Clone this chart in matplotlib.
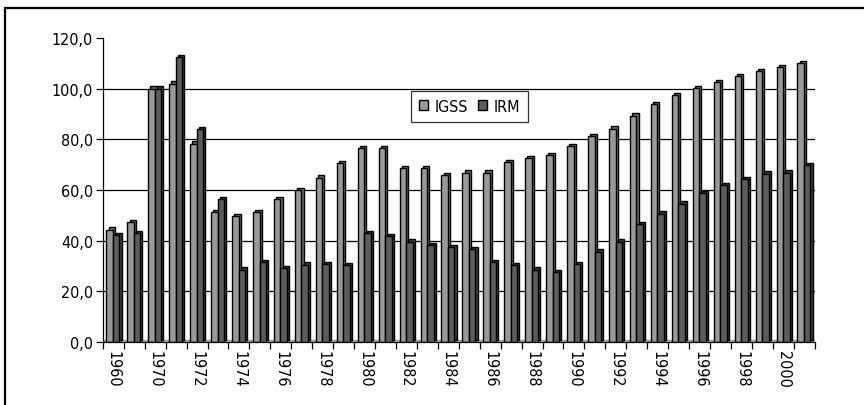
import numpy as np
import matplotlib.pyplot as plt
from matplotlib.patches import Rectangle
from matplotlib.ticker import FixedLocator, FuncFormatter

plt.rcParams['font.family'] = ['DejaVu Sans']
plt.rcParams['font.stretch'] = 'condensed'

# years on the category axis (only every second one gets a label)
years = ['1960', '1965'] + [str(y) for y in range(1970, 2002)]

igss = [44.4, 47.3, 100.0, 102.0, 78.3, 51.3, 49.7, 51.3, 56.5, 60.0,
        64.9, 70.5, 76.6, 76.6, 68.6, 68.6, 65.9, 66.9, 66.9, 71.0,
        72.7, 73.8, 77.3, 81.2, 84.2, 89.4, 93.9, 97.4, 100.3, 102.6,
        104.8, 106.8, 108.5, 110.0]
irm = [42.2, 42.9, 100.0, 112.4, 84.0, 56.5, 28.6, 31.4, 29.2, 30.5,
       30.8, 30.4, 42.9, 41.8, 39.6, 38.3, 37.6, 36.6, 31.4, 30.4,
       28.6, 27.7, 30.8, 35.7, 39.6, 46.5, 50.7, 54.6, 58.8, 62.0,
       64.3, 66.5, 66.9, 69.9]

series = [('IGSS', igss, '#999999', '#6a6a6a'),
          ('IRM', irm, '#5c5c5c', '#3a3a3a')]

fig = plt.figure(figsize=(8.64, 4.06), dpi=100)
ax = fig.add_axes([0.119, 0.155, 0.824, 0.749])

x = np.arange(len(years))
w = 0.31
dx, dy = 0.1, 0.9  # depth of the fake 3d extrusion

# floor strip
ax.axhspan(0, 0.9, color='#a0a0a0', zorder=1)

for k, (name, vals, front, side) in enumerate(series):
    pos = x + (k - 0.55) * w
    ax.bar(pos + dx, vals, w, bottom=dy, color=side, edgecolor='black',
           linewidth=1.0, zorder=2 + k)
    ax.bar(pos, vals, w, color=front, edgecolor='black', linewidth=1.0,
           zorder=2 + k, label=name)

ax.set_xlim(-0.5, len(years) - 0.5)
ax.set_ylim(0, 120)

for yv in range(20, 120, 20):
    ax.axhline(yv, color='black', linewidth=0.9, zorder=0)

for s in ['top', 'right']:
    ax.spines[s].set_visible(False)
for s in ['left', 'bottom']:
    ax.spines[s].set_linewidth(0.9)

ax.set_yticks(range(0, 121, 20))
ax.yaxis.set_major_formatter(FuncFormatter(lambda v, p: f'{v:.1f}'.replace('.', ',')))
ax.tick_params(axis='y', labelsize=11.5, length=5, width=0.9, pad=2)

ax.set_xticks(x[::2])
ax.set_xticklabels(years[::2], rotation=270, fontsize=11.5)
ax.xaxis.set_minor_locator(FixedLocator(np.arange(-0.5, len(years), 1.0)))
ax.tick_params(axis='x', which='major', length=0, pad=6)
ax.tick_params(axis='x', which='minor', length=5, width=0.9)

leg = ax.legend(loc='center', bbox_to_anchor=(0.515, 0.775), ncol=2,
                fontsize=11.5, frameon=True, fancybox=False, edgecolor='black',
                handlelength=0.6, handleheight=0.6, handletextpad=0.4,
                columnspacing=0.6, borderpad=0.5)
leg.get_frame().set_linewidth(0.9)
for h in leg.legend_handles:
    h.set_edgecolor('black')

# chart frame: only the top and left edges fall inside the image
fig.patches.append(Rectangle((0.006, -0.1), 1.2, 1.078, transform=fig.transFigure,
                             fill=False, edgecolor='black', linewidth=1.6))

fig.savefig('out.png', dpi=100)
